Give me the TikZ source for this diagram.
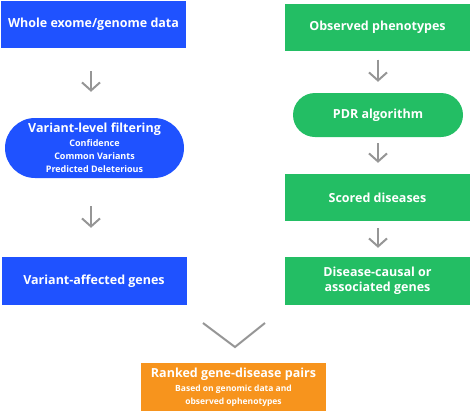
\documentclass[tikz,border=0pt]{standalone}
\usepackage{fontspec}
\setmainfont{Open Sans}
\usetikzlibrary{arrows.meta}
\definecolor{cblue}{RGB}{31,82,255}
\definecolor{cgreen}{RGB}{35,190,100}
\definecolor{corange}{RGB}{247,148,29}
\definecolor{cgray}{RGB}{150,150,150}
\begin{document}
\begin{tikzpicture}[x=1pt,y=-1pt,
  box/.style={inner sep=0pt, text=white, align=center,
    font=\bfseries\fontsize{12.5}{15}\selectfont, minimum width=185pt, minimum height=47pt},
  bluebox/.style={box, fill=cblue},
  greenbox/.style={box, fill=cgreen},
  pill/.style={rounded corners=#1},
  arr/.style={draw=cgray, line width=2pt, -{Straight Barb[length=8pt,width=18pt]}},
  small/.style={font=\bfseries\fontsize{9}{10}\selectfont}
]
\useasboundingbox (0,0) rectangle (472,413);
\node[bluebox] (b1) at (93.5,24.5) {Whole exome/genome data};
\node[bluebox, pill=30pt, minimum width=179pt, minimum height=60pt] (b2) at (94.5,148)
  {Variant-level filtering\\[-1pt]{\fontsize{9}{10}\selectfont Confidence}\\[-2pt]{\fontsize{9}{10}\selectfont Common Variants}\\[-2pt]{\fontsize{9}{10}\selectfont Predicted Deleterious}};
\node[bluebox, minimum height=48pt] (b3) at (94,281) {Variant-affected genes};

\node[greenbox] (g1) at (377.5,27) {Observed phenotypes};
\node[greenbox, pill=22pt, minimum width=170pt, minimum height=44pt] (g2) at (378,115) {PDR algorithm};
\node[greenbox] (g3) at (377.5,197.5) {Scored diseases};
\node[greenbox, minimum height=48pt] (g4) at (377.5,281) {Disease-causal or\\associated genes};

\node[box, fill=corange, minimum height=48pt] (o1) at (233.5,387)
  {Ranked gene-disease pairs\\[-1pt]{\fontsize{8.5}{10}\selectfont Based on genomic data and}\\[-2pt]{\fontsize{8.5}{10}\selectfont observed ophenotypes}};

\draw[arr, shorten <=23pt, shorten >=26pt] (b1.south -| 91,0) -- (b2.north -| 91,0);
\draw[arr, shorten <=28pt, shorten >=29pt] (b2.south -| 91,0) -- (b3.north -| 91,0);
\draw[arr, shorten <=9pt, shorten >=11pt] (g1.south -| 378,0) -- (g2.north -| 378,0);
\draw[arr, shorten <=6pt, shorten >=11pt] (g2.south -| 378,0) -- (g3.north -| 378,0);
\draw[arr, shorten <=7pt, shorten >=9pt] (g3.south -| 378,0) -- (g4.north -| 378,0);

\coordinate (vl) at (203,323);
\coordinate (va) at (235,347);
\coordinate (vr) at (265,323);
\draw[cgray, line width=2pt] (vl) -- (va) -- (vr);
\end{tikzpicture}
\end{document}
